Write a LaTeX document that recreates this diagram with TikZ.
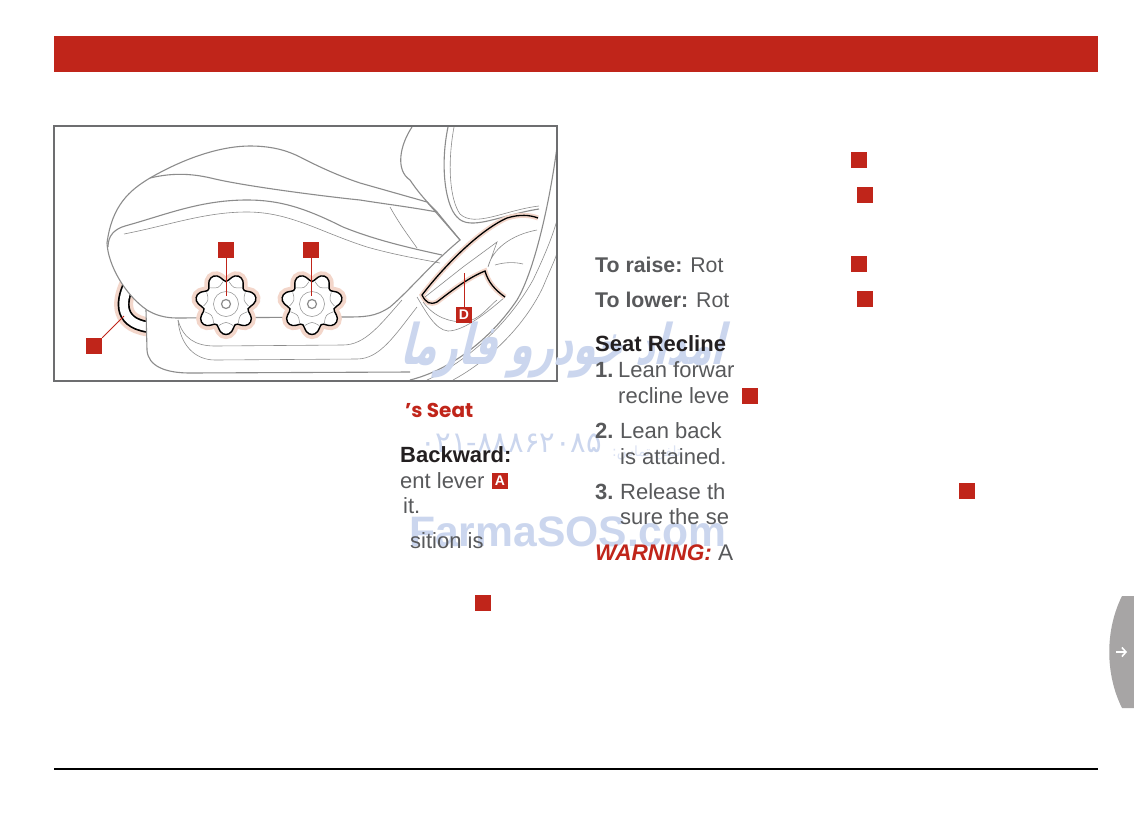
\documentclass[tikz,border=0pt]{standalone}
\usepackage{fontspec}
\setmainfont{Liberation Sans}
\newfontfamily\seatfont{Poppins}
\newfontfamily\arabicfont[Script=Arabic]{DejaVu Sans}
\TeXXeTstate=1
\usetikzlibrary{arrows.meta}
\definecolor{manualred}{RGB}{192,37,26}
\definecolor{bodygray}{RGB}{88,89,91}
\definecolor{headdark}{RGB}{35,31,32}
\definecolor{framegray}{RGB}{109,110,112}
\definecolor{linegray}{RGB}{140,140,140}
\definecolor{halopink}{RGB}{243,214,202}
\definecolor{tabgray}{RGB}{167,165,165}
\definecolor{markblue}{RGB}{203,214,238}
\tikzset{
  redsq/.style={fill=manualred, text=white, minimum size=16pt, inner sep=0pt, font=\fontsize{14}{14}\selectfont\bfseries},
  body/.style={anchor=base west, inner sep=0pt, text=bodygray, font=\fontsize{22}{26}\selectfont},
  seatline/.style={draw=linegray, line width=1.1pt},
  fineline/.style={draw=linegray, line width=0.6pt},
  leader/.style={draw=manualred, line width=1pt}
}
\newcommand{\seatknob}[2]{
  \draw[halopink, line width=9pt, fill=white] plot[smooth cycle, samples=60, domain=0:354, variable=\t] ({#1+(27+4*cos(7*(\t-90))-0.5*cos(14*(\t-90)))*cos(\t)},{#2+(27+4*cos(7*(\t-90))-0.5*cos(14*(\t-90)))*sin(\t)});
  \draw[black, line width=1.4pt, fill=white] plot[smooth cycle, samples=60, domain=0:354, variable=\t] ({#1+(27+4*cos(7*(\t-90))-0.5*cos(14*(\t-90)))*cos(\t)},{#2+(27+4*cos(7*(\t-90))-0.5*cos(14*(\t-90)))*sin(\t)});
  \draw[linegray, line width=1.2pt] (#1,#2) circle [radius=4.5];
  \draw[linegray, line width=0.5pt] (#1,#2) circle [radius=12.5];
  \foreach \a in {90,141.4,192.9,244.3,295.7,347.1,38.6}
    \draw[linegray, line width=0.5pt] ({#1+22.5*cos(\a-18)},{#2+22.5*sin(\a-18)}) .. controls ({#1+17.5*cos(\a)},{#2+17.5*sin(\a)}) .. ({#1+22.5*cos(\a+18)},{#2+22.5*sin(\a+18)});
}
\begin{document}
\begin{tikzpicture}[x=1pt, y=-1pt]
  \useasboundingbox (0,0) rectangle (1134,828);
  \fill[white] (0,0) rectangle (1134,828);

  \fill[manualred] (54,36) rectangle (1098,72);
  \draw[black, line width=1.5pt] (54,769) -- (1098,769);

  \begin{scope}
    \clip (54,126) rectangle (557,381);
    % lever A
    \draw[halopink, line width=19pt] (130,282) .. controls (122,298) and (116,322) .. (148,327);
    \draw[black, line width=12pt] (130,282) .. controls (122,298) and (116,322) .. (148,327);
    \draw[white, line width=8.6pt] (130,282) .. controls (122,298) and (116,322) .. (148,327);
    % base
    \path[seatline, fill=white] (146,310) -- (147,350) .. controls (148,366) and (165,373) .. (190,373) -- (410,372);
    \path[fineline] (178,320) .. controls (183,338) and (195,346) .. (215,346) -- (343,345) .. controls (365,345) and (380,325) .. (402,300);
    \path[fineline] (178,320) .. controls (180,345) and (195,360) .. (215,360) -- (357,359) .. controls (380,359) and (395,335) .. (417,307);
    % cushion
    \path[seatline, fill=white] (107,243) .. controls (112,205) and (130,190) .. (150,178) .. controls (190,155) and (225,146) .. (250,146) .. controls (275,146) and (290,152) .. (300,157) .. controls (325,170) and (345,178) .. (360,183) -- (427,202) -- (460,240) .. controls (430,265) and (410,290) .. (390,307) .. controls (375,317) and (365,317) .. (343,317) -- (177,318) .. controls (165,318) and (155,315) .. (147,310) .. controls (125,295) and (108,265) .. (107,243) -- cycle;
    \path[seatline] (150,178) .. controls (175,172) and (195,174) .. (215,179) .. controls (250,187) and (330,197) .. (360,200) .. controls (385,204) and (410,207) .. (437,212);
    \path[seatline] (108,247) .. controls (108,235) and (115,229) .. (125,226) .. controls (165,215) and (200,200) .. (247,200) .. controls (280,200) and (305,208) .. (343,227) .. controls (375,240) and (410,248) .. (442,255);
    \path[fineline] (124,234) .. controls (170,225) and (205,212) .. (247,212) .. controls (290,212) and (320,232) .. (367,247) .. controls (395,255) and (420,259) .. (440,263);
    \path[fineline] (390,207) .. controls (400,225) and (410,238) .. (417,248);
    % backrest
    \path[seatline] (412,127) .. controls (400,145) and (395,170) .. (410,180) .. controls (420,195) and (430,205) .. (437,212) -- (460,240);
    \path[seatline] (448,127) .. controls (440,165) and (445,205) .. (457,217) .. controls (470,232) and (500,215) .. (539,209);
    \path[fineline] (454,127) .. controls (447,165) and (450,200) .. (460,214) .. controls (475,228) and (505,210) .. (539,206);
    % rails
    \path[seatline] (410,380) .. controls (450,370) and (490,340) .. (517,300) .. controls (535,270) and (550,200) .. (557,147);
    \path[fineline] (427,380) .. controls (460,365) and (505,330) .. (533,280) .. controls (545,255) and (553,235) .. (557,220);
    \path[fineline] (453,380) .. controls (490,360) and (525,325) .. (543,287) .. controls (550,270) and (555,260) .. (557,253);
    % lever D
    \path[fineline] (417,297) .. controls (425,310) and (435,330) .. (448,331) .. controls (465,331) and (490,310) .. (505,297);
    \path[fineline] (423,302) .. controls (435,318) and (450,322) .. (465,322) .. controls (480,320) and (490,305) .. (497,300);
    \path[fill=white] (505,297) .. controls (495,290) and (488,282) .. (485,271) .. controls (470,277) and (455,288) .. (437,302) .. controls (430,305) and (426,303) .. (422,295) .. controls (445,265) and (480,230) .. (507,218) .. controls (520,214) and (530,215) .. (538,218) -- cycle;
    \draw[halopink, line width=5pt] (505,297) .. controls (495,290) and (488,282) .. (485,271) .. controls (470,277) and (455,288) .. (437,302) .. controls (430,305) and (426,303) .. (422,295) .. controls (445,265) and (480,230) .. (507,218) .. controls (520,214) and (530,215) .. (538,218);
    \draw[black, line width=1.3pt] (505,297) .. controls (495,290) and (488,282) .. (485,271) .. controls (470,277) and (455,288) .. (437,302) .. controls (430,305) and (426,303) .. (422,295) .. controls (445,265) and (480,230) .. (507,218) .. controls (520,214) and (530,215) .. (538,218);
    \path[fineline] (425,297) -- (463,267) -- (497,242) -- (488,267) .. controls (492,250) and (510,235) .. (537,230);
    \path[fineline] (495,265) .. controls (505,262) and (515,262) .. (523,264);

    \seatknob{226}{304}
    \seatknob{312}{304}
  \end{scope}
  \draw[framegray, line width=2pt] (54,126) rectangle (557,381);

  % watermark
  \node[anchor=base west, inner sep=0pt, text=markblue, xslant=0.25, xscale=0.66, font=\fontsize{56}{56}\selectfont\arabicfont\bfseries] (marklogo) at (400,364) {\beginR امداد خودرو فارما\endR};
  \node[anchor=base west, inner sep=0pt, text=markblue, font=\fontsize{29}{29}\selectfont\arabicfont] (markphone) at (420,452) {۰۲۱-۸۸۸۶۲۰۸۵};
  \node[anchor=base west, inner sep=0pt, text=markblue!70, font=\fontsize{14}{14}\selectfont\arabicfont] (markfax) at (612,456) {\beginR تلفن تماس:\endR};
  \node[anchor=base west, inner sep=0pt, text=markblue, font=\fontsize{42.6}{42.6}\selectfont\bfseries] (markname) at (409,546) {FarmaSOS.com};

  % markers in the picture
  \node[redsq] (markb) at (226,250) {};
  \node[redsq] (markc) at (311,250) {};
  \node[redsq] (marka) at (94,346) {};
  \node[redsq] (markd) at (464,315) {D};
  \coordinate (tipb) at (226,296);
  \coordinate (tipc) at (311,296);
  \coordinate (tipa) at (124,316);
  \coordinate (tipd) at (464,273);
  \draw[leader] (markb) -- (tipb);
  \draw[leader] (markc) -- (tipc);
  \draw[leader] (marka) -- (tipa);
  \draw[leader] (markd) -- (tipd);

  % left column
  \node[anchor=base west, inner sep=0pt, text=manualred, font=\fontsize{20}{24}\selectfont\seatfont\bfseries] (seathead) at (405,417) {’s Seat};
  \node[body, text=headdark, font=\fontsize{22}{26}\selectfont\bfseries] (backward) at (400,462) {Backward:};
  \node[body] (entlever) at (400,488) {ent lever};
  \node[redsq] (leverbox) at (500,481) {A};
  \node[body] (itline) at (403,513) {it.};
  \node[body] (sition) at (410,548) {sition is};
  \node[redsq] (sqlow) at (483,603) {};

  % right column
  \node[redsq] (sqone) at (859,160) {};
  \node[redsq] (sqtwo) at (865,195) {};
  \node[body, font=\fontsize{21.3}{26}\selectfont] (raise) at (595,272) {\textbf{To raise:} Rot};
  \node[redsq] (sqraise) at (859,264) {};
  \node[body, font=\fontsize{21.3}{26}\selectfont] (lower) at (595,307) {\textbf{To lower:} Rot};
  \node[redsq] (sqlower) at (865,299) {};
  \node[body, text=headdark, font=\fontsize{22}{26}\selectfont\bfseries] (recline) at (595,351) {Seat Recline};
  \node[body] (numone) at (595,377) {\textbf{1.}};
  \node[body] (stepone) at (618,377) {Lean forwar};
  \node[body] (steponeb) at (618,403) {recline leve};
  \node[redsq] (sqrecline) at (750,396) {};
  \node[body] (numtwo) at (595,438) {\textbf{2.}};
  \node[body] (steptwo) at (620,438) {Lean back};
  \node[body] (steptwob) at (620,464) {is attained.};
  \node[body] (numthree) at (595,499) {\textbf{3.}};
  \node[body] (stepthree) at (620,499) {Release th};
  \node[redsq] (sqrelease) at (967,491) {};
  \node[body] (stepthreeb) at (620,524) {sure the se};
  \node[body, font=\fontsize{22.6}{26}\selectfont] (warning) at (595,560) {\textcolor{manualred}{\textbf{\textit{WARNING:}}} A};

  % side tab
  \fill[tabgray] (1122,596) .. controls (1105,630) and (1105,674) .. (1122,708) -- (1134,708) -- (1134,596) -- cycle;
  \coordinate (tabtail) at (1116,652);
  \coordinate (tabhead) at (1127,652);
  \draw[-{Straight Barb[length=4pt,width=9pt]}, white, line width=1.6pt] (tabtail) -- (tabhead);
\end{tikzpicture}
\end{document}
